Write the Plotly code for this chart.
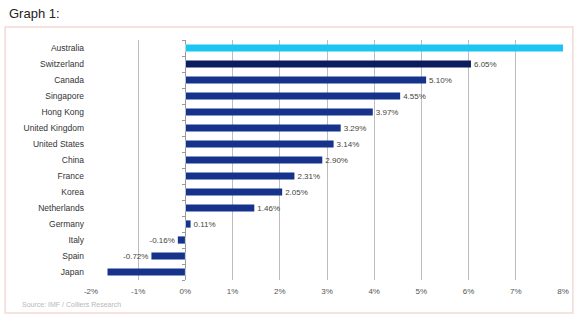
import plotly.graph_objects as go

# Real GDP growth by country (%)
countries = ["Australia", "Switzerland", "Canada", "Singapore", "Hong Kong",
             "United Kingdom", "United States", "China", "France", "Korea",
             "Netherlands", "Germany", "Italy", "Spain", "Japan"]
growth = [8.0, 6.05, 5.10, 4.55, 3.97, 3.29, 3.14, 2.90, 2.31, 2.05,
          1.46, 0.11, -0.16, -0.72, -1.65]
labels = ["", "6.05%", "5.10%", "4.55%", "3.97%", "3.29%", "3.14%", "2.90%",
          "2.31%", "2.05%", "1.46%", "0.11%", "-0.16%", "-0.72%", ""]
x_ticks = [-2, -1, 0, 1, 2, 3, 4, 5, 6, 7, 8]
x_tick_text = ["-2%", "-1%", "0%", "1%", "2%", "3%", "4%", "5%", "6%", "7%", "8%"]

NAVY = "#15338a"
colors = [NAVY] * len(countries)
colors[0] = "#1cc6f0"
colors[1] = "#0b1d5e"

fig = go.Figure()
fig.add_trace(go.Bar(
    y=countries, x=growth, orientation="h",
    marker=dict(color=colors, line=dict(width=0)),
    text=labels, textposition="outside", cliponaxis=True,
    constraintext="none",
    textfont=dict(family="Liberation Sans, Arial", size=8, color="#444"),
    hoverinfo="skip",
))
# invisible copy on a second axis placed at 0% to carry the category ticks
fig.add_trace(go.Bar(
    y=countries, x=[0] * len(countries), orientation="h", yaxis="y2",
    marker=dict(color="rgba(0,0,0,0)"), hoverinfo="skip", showlegend=False,
))

fig.update_layout(
    width=580, height=322,
    margin=dict(l=91, r=17, t=40, b=42),
    paper_bgcolor="white", plot_bgcolor="white",
    showlegend=False, bargap=0.55,
    font=dict(family="Liberation Sans, Arial", color="#333"),
    xaxis=dict(
        range=[-2, 8], tickvals=x_ticks, ticktext=x_tick_text,
        showgrid=True, gridcolor="#bdbdbd", gridwidth=1,
        zeroline=True, zerolinecolor="#9a9a9a", zerolinewidth=1,
        showline=False, ticks="outside", ticklen=3, tickcolor="rgba(0,0,0,0)",
        tickfont=dict(size=8, color="#555"),
    ),
    yaxis=dict(
        categoryorder="array", categoryarray=countries[::-1],
        autorange=False, range=[-0.5, len(countries) - 0.5],
        showgrid=False, zeroline=False, showline=False, ticks="",
        tickfont=dict(size=8.5, color="#333"), ticklabelstandoff=6,
    ),
    yaxis2=dict(
        overlaying="y", anchor="free", position=2 / 10,
        categoryorder="array", categoryarray=countries[::-1],
        range=[-0.5, len(countries) - 0.5],
        showticklabels=False, showgrid=False, zeroline=False,
        showline=False, ticks="outside", ticklen=3, tickcolor="#999",
        tickson="boundaries",
    ),
    shapes=[dict(
        type="rect", xref="paper", yref="paper",
        x0=-0.182, x1=1.021, y0=-0.1375, y1=1.054,
        line=dict(color="#f3d9d3", width=1.5), fillcolor="rgba(0,0,0,0)",
        layer="below",
    )],
    annotations=[
        dict(text="Graph 1:", xref="paper", yref="paper",
             x=-0.178, y=1.112, xanchor="left", yanchor="middle",
             showarrow=False, font=dict(size=13, color="#222")),
        dict(text="Source: IMF / Colliers Research", xref="paper", yref="paper",
             x=-0.15, y=-0.1, xanchor="left", yanchor="middle",
             showarrow=False, font=dict(size=7, color="#b8b8b8")),
    ],
)

fig.write_html("out.html")
